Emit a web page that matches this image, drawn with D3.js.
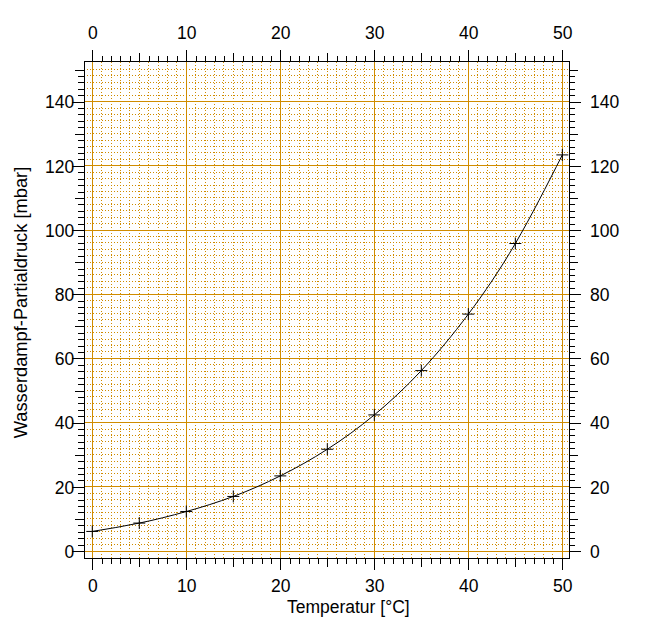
<!DOCTYPE html>
<html>
<head>
<meta charset="utf-8">
<script src="https://cdn.jsdelivr.net/npm/d3@7"></script>
<style>
  body { margin: 0; background: #fff; }
  svg text { font-family: "Liberation Sans", Arial, Helvetica, sans-serif; fill: #000; }
</style>
</head>
<body>
<div class="canvas"></div>
<script>
// Sättigungsdampfdruck von Wasser
const temperatur = [0, 5, 10, 15, 20, 25, 30, 35, 40, 45, 50];
const druck = [6.1, 8.7, 12.3, 17.0, 23.4, 31.7, 42.4, 56.2, 73.8, 95.8, 123.4];

const xMajor = [0, 10, 20, 30, 40, 50];
const xMedium = [5, 15, 25, 35, 45];
const yMajor = [0, 20, 40, 60, 80, 100, 120, 140];
const yMedium = [10, 30, 50, 70, 90, 110, 130, 150];

const xTitle = "Temperatur [°C]";
const yTitle = "Wasserdampf-Partialdruck [mbar]";

const width = 654, height = 620;
const grid = "#d08c00";

const svg = d3.select(".canvas").append("svg")
  .attr("width", width)
  .attr("height", height);

const xScale = d3.scaleLinear().domain([-0.85, 50.74]).range([84.3, 569.3]);
const yScale = d3.scaleLinear().domain([-2.27, 152.5]).range([558.3, 61.5]);

const xMinor = d3.range(0, 51, 1);
const yMinor = d3.range(0, 151, 2);

const [plotLeft, plotRight] = xScale.range();
const [plotBottom, plotTop] = yScale.range();

// minor grid (dotted)
const gridG = svg.append("g").attr("shape-rendering", "crispEdges");
gridG.append("g").selectAll("line").data(xMinor).join("line")
  .attr("x1", d => xScale(d)).attr("x2", d => xScale(d))
  .attr("y1", plotTop).attr("y2", plotBottom)
  .attr("stroke", grid).attr("stroke-width", 1).attr("stroke-dasharray", "1,2");
gridG.append("g").selectAll("line").data(yMinor).join("line")
  .attr("y1", d => yScale(d)).attr("y2", d => yScale(d))
  .attr("x1", plotLeft).attr("x2", plotRight)
  .attr("stroke", grid).attr("stroke-width", 1).attr("stroke-dasharray", "1,2");

// major grid (solid)
gridG.append("g").selectAll("line").data(xMajor).join("line")
  .attr("x1", d => xScale(d)).attr("x2", d => xScale(d))
  .attr("y1", plotTop).attr("y2", plotBottom)
  .attr("stroke", grid).attr("stroke-width", 1);
gridG.append("g").selectAll("line").data(yMajor).join("line")
  .attr("y1", d => yScale(d)).attr("y2", d => yScale(d))
  .attr("x1", plotLeft).attr("x2", plotRight)
  .attr("stroke", grid).attr("stroke-width", 1);

// axes: minor, medium, major tick layers on all four sides
const addAxis = (axisFn, scale, ticks, size, transform, labels) => {
  const g = svg.append("g")
    .attr("transform", transform)
    .attr("shape-rendering", "crispEdges")
    .call(axisFn(scale).tickValues(ticks).tickSize(size).tickPadding(6)
      .tickFormat(labels ? d3.format("d") : ""));
  g.select(".domain").remove();
  g.selectAll(".tick line").attr("stroke", "#000");
  g.selectAll(".tick text").style("font-size", "17.5px").attr("fill", "#000");
  return g;
};

[[d3.axisBottom, plotBottom], [d3.axisTop, plotTop]].forEach(([fn, pos]) => {
  addAxis(fn, xScale, xMinor, 6, `translate(0,${pos})`, false);
  addAxis(fn, xScale, xMedium, 9, `translate(0,${pos})`, false);
  const g = addAxis(fn, xScale, xMajor, 12, `translate(0,${pos})`, true);
  g.selectAll(".tick text")
    .attr("dy", null)
    .attr("y", fn === d3.axisBottom ? 33.4 : -22.2);
});

[[d3.axisLeft, plotLeft], [d3.axisRight, plotRight]].forEach(([fn, pos]) => {
  addAxis(fn, yScale, yMinor, 6, `translate(${pos},0)`, false);
  addAxis(fn, yScale, yMedium, 9, `translate(${pos},0)`, false);
  const g = addAxis(fn, yScale, yMajor, 12, `translate(${pos},0)`, true);
  g.selectAll(".tick text")
    .attr("dy", "0.36em")
    .attr("x", fn === d3.axisLeft ? -10 : 20.7);
});

// frame
svg.append("rect")
  .attr("x", plotLeft).attr("y", plotTop)
  .attr("width", plotRight - plotLeft).attr("height", plotBottom - plotTop)
  .attr("fill", "none").attr("stroke", "#000").attr("stroke-width", 1)
  .attr("shape-rendering", "crispEdges");

// curve
const points = temperatur.map((t, i) => ({ t: t, p: druck[i] }));
const line = d3.line()
  .x(d => xScale(d.t))
  .y(d => yScale(d.p))
  .curve(d3.curveNatural);

svg.append("path")
  .datum(points)
  .attr("d", line)
  .attr("fill", "none")
  .attr("stroke", "#000")
  .attr("stroke-width", 1);

// "+" markers
const m = 6;
svg.append("g").selectAll("path").data(points).join("path")
  .attr("d", d => {
    const cx = xScale(d.t), cy = yScale(d.p);
    return `M${cx - m},${cy}H${cx + m}M${cx},${cy - m}V${cy + m}`;
  })
  .attr("stroke", "#000").attr("stroke-width", 1).attr("fill", "none");

// titles
svg.append("text")
  .attr("x", 348.3).attr("y", 613)
  .attr("text-anchor", "middle")
  .style("font-size", "17.5px")
  .text(xTitle);

svg.append("text")
  .attr("transform", "translate(26.7,302.5) rotate(-90)")
  .attr("text-anchor", "middle")
  .style("font-size", "18.3px")
  .text(yTitle);
</script>
</body>
</html>
